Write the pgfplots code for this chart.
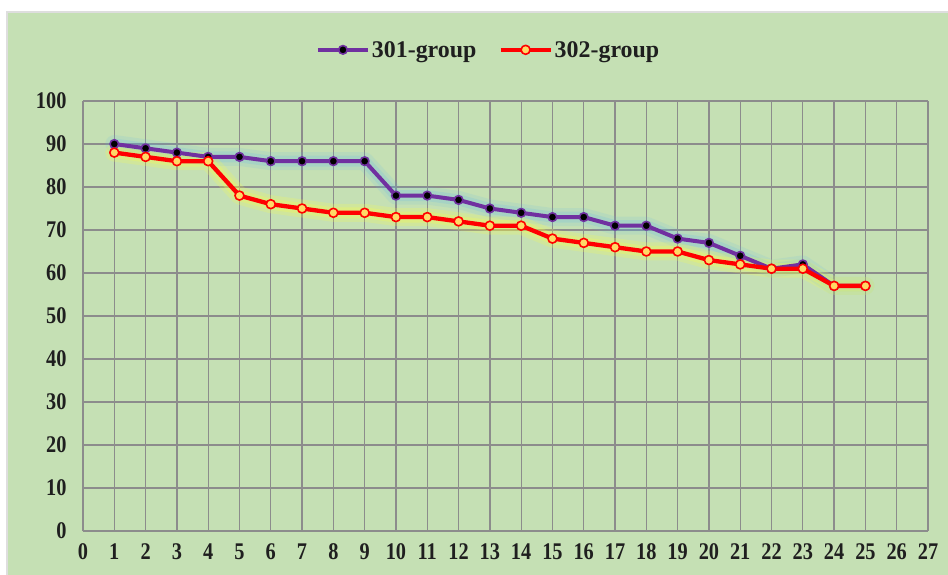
\documentclass[border=0pt]{standalone}
\usepackage{pgfplots}
\pgfplotsset{compat=1.18}
\usepackage{fontspec}
\setmainfont{Liberation Serif}
\definecolor{bg}{HTML}{C5E0B4}
\definecolor{pur}{HTML}{7030A0}
\definecolor{gridc}{HTML}{8C8C8C}
\definecolor{mfill}{HTML}{FFD966}
\definecolor{glowb}{HTML}{5BB8F0}
\definecolor{glowy}{HTML}{FFFF40}
\pgfplotstableread{
x a b
1 90 88
2 89 87
3 88 86
4 87 86
5 87 78
6 86 76
7 86 75
8 86 74
9 86 74
10 78 73
11 78 73
12 77 72
13 75 71
14 74 71
15 73 68
16 73 67
17 71 66
18 71 65
19 68 65
20 67 63
21 64 62
22 61 61
23 62 61
24 57 57
25 57 57
}\data
\begin{document}
\begin{tikzpicture}
\fill[white] (0bp,0bp) rectangle (948bp,575bp);
\fill[black!13] (6bp,0bp) rectangle (948bp,564bp);
\fill[bg] (8bp,0bp) rectangle (948bp,562bp);
\begin{axis}[
  at={(83bp,44bp)}, anchor=south west,
  scale only axis, width=845bp, height=430bp,
  xmin=0, xmax=27, ymin=0, ymax=100,
  xtick={0,...,27}, ytick={0,10,...,100},
  xticklabel={\scalebox{0.85}[1]{\pgfmathprintnumber{\tick}}},
  yticklabel={\scalebox{0.85}[1]{\pgfmathprintnumber{\tick}}},
  grid=major,
  grid style={gridc, line width=1.3bp},
  axis lines*=left,
  axis line style={gridc, line width=1.5bp, -},
  major tick length=0pt,
  /pgf/number format/assume math mode=true,
  ticklabel style={font=\fontsize{24}{26}\selectfont\bfseries, text=black!88},
  xticklabel style={yshift=-9bp},
  yticklabel style={xshift=-13bp},
  legend columns=2,
  legend style={at={(0.48,1.119)}, anchor=center, draw=none, fill=none,
    font=\fontsize{24}{26}\selectfont\bfseries, text=black!88,
    /tikz/every even column/.append style={column sep=20bp}},
  legend image code/.code={\draw[mark repeat=2,mark phase=2] plot coordinates {(0bp,0bp)(25bp,0bp)(50bp,0bp)};},
  clip=false,
]
\addplot[glowb, opacity=0.13, line width=18bp, line join=round, line cap=round, forget plot] table[x=x,y=a] {\data};
\addplot[glowb, opacity=0.18, line width=11bp, line join=round, line cap=round, forget plot] table[x=x,y=a] {\data};
\addplot[glowy, opacity=0.2, line width=18bp, line join=round, line cap=round, forget plot] table[x=x,y=b] {\data};
\addplot[glowy, opacity=0.25, line width=11bp, line join=round, line cap=round, forget plot] table[x=x,y=b] {\data};
\addplot[pur, line width=4bp, line join=round, mark=*, mark size=4.3bp,
  mark options={fill=black, draw=pur, line width=1.6bp}] table[x=x,y=a] {\data};
\addlegendentry{301-group}
\addplot[red, line width=4.3bp, line join=round, mark=*, mark size=4.5bp,
  mark options={fill=mfill, draw=red, line width=1.6bp}] table[x=x,y=b] {\data};
\addlegendentry{302-group}
\end{axis}
\end{tikzpicture}
\end{document}
